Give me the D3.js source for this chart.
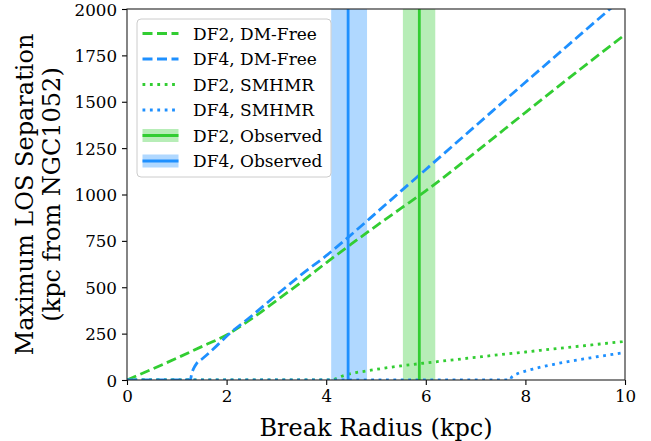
<!DOCTYPE html>
<html>
<head>
<meta charset="utf-8">
<script src="https://cdn.jsdelivr.net/npm/d3@7"></script>
<style>
  html, body { margin: 0; padding: 0; background: #fff; }
  svg { display: block; font-family: "DejaVu Serif", serif; }
</style>
</head>
<body>
<svg id="chart" width="651" height="441"></svg>
<script>
// Break radius (kpc) and maximum line-of-sight separation (kpc) for each model
const df2DmFreeR   = [0, 0.5, 1, 1.5, 2, 2.5, 3, 3.5, 4, 4.5, 5, 5.5, 6, 7, 8, 9, 10];
const df2DmFreeSep = [0, 58, 118, 180, 243, 330, 428, 528, 632, 732, 830, 925, 1020, 1228, 1442, 1654, 1862];

const df4DmFreeR   = [0, 1.27, 1.3, 1.35, 1.4, 1.5, 1.6, 1.8, 2, 2.5, 3, 3.5, 4, 4.44, 5, 5.5, 6, 7, 8, 9, 10];
const df4DmFreeSep = [0, 0, 35, 68, 90, 112, 135, 184, 236, 345, 458, 568, 670, 769, 900, 1018, 1135, 1370, 1605, 1838, 2070];

const df2SmhmrR   = [0, 4.1, 4.2, 4.3, 4.45, 4.6, 4.8, 5, 5.5, 6, 6.5, 7, 7.5, 8, 8.5, 9, 9.5, 10];
const df2SmhmrSep = [0, 0, 8, 19, 31, 40, 48, 57, 76, 92, 107, 122, 137, 151, 166, 180, 194, 208];

const df4SmhmrR   = [0, 7.7, 7.72, 7.86, 8, 8.15, 8.3, 8.45, 8.6, 8.75, 9, 9.25, 9.5, 9.75, 10];
const df4SmhmrSep = [0, 0, 14, 36, 48, 59, 69, 78, 86, 94, 106, 117, 128, 138, 148];

// Observed break radii with their uncertainty ranges (kpc)
const observedNames = ["DF2", "DF4"];
const observedBreak = [5.87, 4.44];
const observedLow   = [5.54, 4.10];
const observedHigh  = [6.19, 4.82];

const xTicks = [0, 2, 4, 6, 8, 10];
const yTicks = [0, 250, 500, 750, 1000, 1250, 1500, 1750, 2000];

const legendLabels = ["DF2, DM-Free", "DF4, DM-Free", "DF2, SMHMR", "DF4, SMHMR", "DF2, Observed", "DF4, Observed"];

const GREEN = "#32cd32", BLUE = "#1e90ff";
const GREEN_BAND = "#b7edb7", BLUE_BAND = "#b0d8ff";
const LW = 2.8;
const DASH = "10,4.5", DOT = "2.8,4.6";

const margin = { left: 127, right: 26, top: 9, bottom: 61 };
const W = 651, H = 441;
const svg = d3.select("#chart");

const x = d3.scaleLinear().domain([0, 10]).range([margin.left, W - margin.right]);
const y = d3.scaleLinear().domain([0, 2000]).range([H - margin.bottom, margin.top]);

svg.append("defs").append("clipPath").attr("id", "plot-clip")
  .append("rect")
  .attr("x", x(0)).attr("y", y(2000))
  .attr("width", x(10) - x(0)).attr("height", y(0) - y(2000));

const plot = svg.append("g").attr("clip-path", "url(#plot-clip)");

// observed ranges as shaded bands
const bandColors = [GREEN_BAND, BLUE_BAND];
const lineColors = [GREEN, BLUE];
observedNames.forEach((n, i) => {
  plot.append("rect")
    .attr("x", x(observedLow[i])).attr("y", y(2000))
    .attr("width", x(observedHigh[i]) - x(observedLow[i]))
    .attr("height", y(0) - y(2000))
    .attr("fill", bandColors[i]);
});

const line = d3.line().x(d => x(d[0])).y(d => y(d[1])).curve(d3.curveMonotoneX);
const series = [
  { r: df2DmFreeR, s: df2DmFreeSep, color: GREEN, dash: DASH },
  { r: df4DmFreeR, s: df4DmFreeSep, color: BLUE, dash: DASH },
  { r: df2SmhmrR, s: df2SmhmrSep, color: GREEN, dash: DOT },
  { r: df4SmhmrR, s: df4SmhmrSep, color: BLUE, dash: DOT }
];
series.forEach(se => {
  plot.append("path")
    .attr("d", line(se.r.map((v, i) => [v, se.s[i]])))
    .attr("fill", "none")
    .attr("stroke", se.color)
    .attr("stroke-width", LW)
    .attr("stroke-dasharray", se.dash);
});

// observed break radii
observedNames.forEach((n, i) => {
  plot.append("line")
    .attr("x1", x(observedBreak[i])).attr("x2", x(observedBreak[i]))
    .attr("y1", y(0)).attr("y2", y(2000))
    .attr("stroke", lineColors[i]).attr("stroke-width", LW);
});

// axes
const xAxis = d3.axisBottom(x).tickValues(xTicks).tickSize(5).tickPadding(5).tickFormat(d3.format("d"));
const yAxis = d3.axisLeft(y).tickValues(yTicks).tickSize(5).tickPadding(5).tickFormat(d3.format("d"));
const gx = svg.append("g").attr("transform", `translate(0,${y(0)})`).call(xAxis);
const gy = svg.append("g").attr("transform", `translate(${x(0)},0)`).call(yAxis);
[gx, gy].forEach(g => {
  g.select(".domain").remove();
  g.selectAll(".tick line").attr("stroke", "#000").attr("stroke-width", 1.1);
  g.selectAll(".tick text").attr("fill", "#000").style("font-size", "16.7px")
   .style("font-family", "DejaVu Serif");
});
gx.selectAll(".tick text").attr("dy", "0.71em");
gy.selectAll(".tick text").attr("dy", "0.36em");

// frame
svg.append("rect")
  .attr("x", x(0)).attr("y", y(2000))
  .attr("width", x(10) - x(0)).attr("height", y(0) - y(2000))
  .attr("fill", "none").attr("stroke", "#222").attr("stroke-width", 1.1);

// axis titles
svg.append("text")
  .attr("x", (x(0) + x(10)) / 2).attr("y", 436)
  .attr("text-anchor", "middle").style("font-size", "24px")
  .text("Break Radius (kpc)");

const yMid = (y(0) + y(2000)) / 2;
const yTitle = svg.append("text")
  .attr("transform", `translate(0,${yMid}) rotate(-90)`)
  .attr("text-anchor", "middle").style("font-size", "24px");
yTitle.append("tspan").attr("x", 0).attr("y", 33).text("Maximum LOS Separation");
yTitle.append("tspan").attr("x", 0).attr("y", 60).text("(kpc from NGC1052)");

// legend
const lg = svg.append("g").attr("transform", "translate(137,19)");
lg.append("rect")
  .attr("x", 0).attr("y", 0).attr("width", 194).attr("height", 158)
  .attr("rx", 4).attr("fill", "#fff").attr("fill-opacity", 0.85)
  .attr("stroke", "#cccccc").attr("stroke-width", 1);
const handles = [
  { color: GREEN, dash: DASH }, { color: BLUE, dash: DASH },
  { color: GREEN, dash: DOT }, { color: BLUE, dash: DOT },
  { color: GREEN, band: GREEN_BAND }, { color: BLUE, band: BLUE_BAND }
];
legendLabels.forEach((lab, i) => {
  const cy = 14.5 + i * 25.5;
  const h = handles[i];
  if (h.band) {
    lg.append("rect").attr("x", 5.5).attr("y", cy - 6.5).attr("width", 36).attr("height", 13).attr("fill", h.band);
  }
  lg.append("line")
    .attr("x1", 5.5).attr("x2", 41.5).attr("y1", cy).attr("y2", cy)
    .attr("stroke", h.color).attr("stroke-width", LW)
    .attr("stroke-dasharray", h.dash || null);
  lg.append("text")
    .attr("x", 56).attr("y", cy).attr("dy", "0.36em")
    .style("font-size", "17px").text(lab);
});
</script>
</body>
</html>
